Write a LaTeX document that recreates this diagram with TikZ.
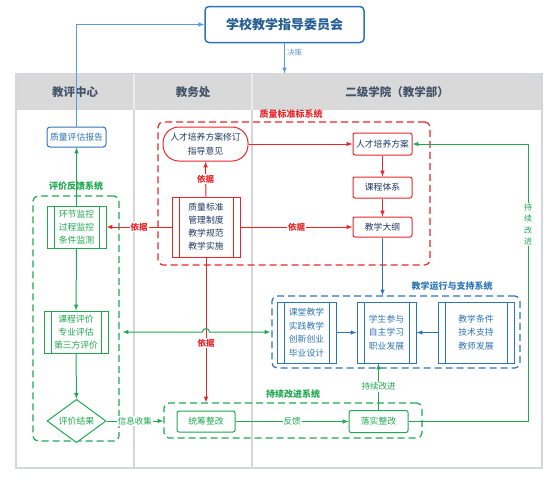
\documentclass[tikz,border=0pt]{standalone}
\usepackage{fontspec}
\setmainfont{Noto Sans CJK SC}
\usetikzlibrary{shapes.geometric}
\definecolor{qblue}{HTML}{2E75B6}
\definecolor{lblue}{HTML}{5B9BD5}
\definecolor{qred}{HTML}{E8262A}
\definecolor{qgreen}{HTML}{1FA84F}
\definecolor{qnavy}{HTML}{1F3864}
\definecolor{lanegray}{HTML}{D3D7DB}
\definecolor{hdrgray}{HTML}{D9D9D9}
\definecolor{hdrtext}{HTML}{44546A}

\tikzset{
  >=latex,
  boxtxt/.style={font=\fontsize{8.8}{13}\selectfont, align=center, inner sep=0pt},
  rbox/.style={boxtxt, draw=qred, line width=1pt, rounded corners=2pt, fill=white, text=qnavy},
  gbox/.style={boxtxt, draw=qgreen, line width=1pt, rounded corners=2pt, fill=white, text=qgreen},
  bbox/.style={boxtxt, draw=qblue, line width=1pt, rounded corners=3pt, fill=white, text=qblue},
  proc/.style={boxtxt, draw=#1, line width=1pt, fill=white,
    path picture={
      \draw[#1, line width=1pt] ([xshift=7pt]path picture bounding box.north west) -- ([xshift=7pt]path picture bounding box.south west);
      \draw[#1, line width=1pt] ([xshift=-7pt]path picture bounding box.north east) -- ([xshift=-7pt]path picture bounding box.south east);
    }},
  sysbox/.style={draw=#1, dash pattern=on 7pt off 4pt, line width=1.2pt, rounded corners=5pt, inner sep=0pt},
  syslbl/.style={font=\bfseries\fontsize{9}{10}\selectfont, text=#1},
  hdr/.style={font=\bfseries\fontsize{11.5}{13}\selectfont, text=hdrtext},
  rarr/.style={draw=qred, line width=1pt, ->},
  garr/.style={draw=qgreen, line width=1pt, ->},
  barr/.style={draw=qblue, line width=1pt, ->},
  elbl/.style={font=\fontsize{8.5}{10}\selectfont, fill=white, inner sep=1pt, text=#1},
  ylbl/.style={elbl=qred, font=\bfseries\fontsize{8.5}{10}\selectfont}
}

\begin{document}
\begin{tikzpicture}[x=1pt,y=-1pt]
\useasboundingbox (0,0) rectangle (554,483);

% lanes
\fill[hdrgray] (16,73.5) rectangle (542,110);
\draw[lanegray, line width=1.5pt] (16,73.5) rectangle (542,468);
\foreach \x in {134,252}
 {
 \draw[lanegray, line width=1.5pt] (\x,110) -- (\x,468);
 \draw[white!85!gray, line width=1.2pt] (\x,73.5) -- (\x,110);
 }
\node[hdr] (pjzx) at (75,92) {教评中心};
\node[hdr] (jwc) at (193,92) {教务处};
\node[hdr] (ejxy) at (397,92) {二级学院（教学部）};

% top
\node[draw=qblue, line width=1.5pt, rounded corners=4pt, fill=white, minimum width=159, minimum height=36,
  font=\bfseries\fontsize{13}{15}\selectfont, text=qblue!80!black] (zdw) at (284.5,24.5) {学校教学指导委员会};
\coordinate (hdtop) at (284.5,73.5);
\draw[barr, draw=lblue] (zdw) -- (hdtop) node[pos=0.3, right, inner sep=2pt, font=\fontsize{7.5}{9}\selectfont, text=lblue] {决策};

% systems
\node[sysbox=qgreen, minimum width=86, minimum height=245] (fksys) at (76,318.5) {};
\node[syslbl=qgreen] (fklbl) at (76,186) {评价反馈系统};
\node[sysbox=qred, minimum width=272, minimum height=143] (bzsys) at (294,193.5) {};
\node[syslbl=qred] (bzlbl) at (291,114) {质量标准标系统};
\node[sysbox=qblue, minimum width=248, minimum height=72] (yxsys) at (396,332) {};
\node[syslbl=qblue] (yxlbl) at (452,286) {教学运行与支持系统};
\node[sysbox=qgreen, minimum width=258, minimum height=35] (gjsys) at (293,420.5) {};
\node[syslbl=qgreen] (gjlbl) at (293,394) {持续改进系统};

% 教评中心
\node[bbox, minimum width=59, minimum height=20] (bg) at (76.5,137) {质量评估报告};
\node[proc=qgreen, text=qgreen, minimum width=59, minimum height=42] (hj) at (76.5,227) {环节监控\\过程监控\\条件监测};
\node[proc=qgreen, text=qgreen, minimum width=64, minimum height=42] (kc) at (76,332) {课程评价\\专业评估\\第三方评价};
\node[boxtxt, diamond, draw=qgreen, line width=1pt, fill=white, text=qgreen, minimum width=59, minimum height=34] (jg) at (76.5,421) {评价结果};

% 质量标准
\node[rbox, rounded corners=16pt, minimum width=85, minimum height=34, font=\fontsize{8.8}{14.5}\selectfont] (xd) at (205.5,144) {人才培养方案修订\\指导意见};
\node[proc=qred, text=qnavy, minimum width=68, minimum height=60] (bz) at (206,227) {质量标准\\管理制度\\教学规范\\教学实施};
\node[rbox, minimum width=59, minimum height=22] (fa) at (382.5,144) {人才培养方案};
\node[rbox, minimum width=59, minimum height=21] (tx) at (382.5,187.5) {课程体系};
\node[rbox, minimum width=59, minimum height=20] (dg) at (382.5,227) {教学大纲};

% 运行与支持
\node[proc=qblue, text=qblue, minimum width=59, minimum height=61, font=\fontsize{8.8}{13.5}\selectfont] (kt) at (306.5,332.5) {课堂教学\\实践教学\\创新创业\\毕业设计};
\node[proc=qblue, text=qblue, minimum width=59, minimum height=61, font=\fontsize{8.8}{13.5}\selectfont] (xs) at (386.5,332.5) {学生参与\\自主学习\\职业发展};
\node[proc=qblue, text=qblue, minimum width=76, minimum height=61, font=\fontsize{8.8}{13.5}\selectfont] (tj) at (476,332.5) {教学条件\\技术支持\\教师发展};

% 持续改进
\node[gbox, minimum width=58, minimum height=21] (tc) at (206,421.5) {统筹整改};
\node[gbox, minimum width=59, minimum height=22] (ls) at (378.5,421.5) {落实整改};
\coordinate (rt) at (528,300);

% arrows
\draw[barr, draw=lblue] (bg) |- (zdw);
\draw[garr] (hj) -- (bg);
\draw[garr] (hj) -- (kc);
\draw[garr] (kc) -- (jg);
\draw[rarr] (bz) -- (xd) node[ylbl, midway] {依据};
\draw[rarr] (bz) -- (hj) node[ylbl, midway] {依据};
\draw[rarr] (xd) -- (fa);
\draw[rarr] (bz) -- (dg) node[ylbl, midway] {依据};
\draw[rarr] (fa) -- (tx);
\draw[rarr] (tx) -- (dg);
\draw[barr] (dg) -- (dg.south |- yxsys.north);
\draw[barr] (kt) -- (xs);
\draw[barr] (tj) -- (xs);
\draw[rarr] (bz) -- (bz.south |- gjsys.north) node[ylbl, pos=0.59] {依据};
\draw[garr, <->] ([xshift=3pt]fksys.east |- kc) -- (202.5,332) arc (180:360:3.5) -- ([xshift=-1pt]yxsys.west |- kc);
\draw[garr] (jg) -- (gjsys.west |- jg) node[elbl=qgreen, midway] {信息收集};
\draw[garr] (tc) -- (ls) node[elbl=qgreen, midway] {反馈};
\draw[garr] (ls.north) -- (ls.north |- xs.south) node[elbl=qgreen, midway] {持续改进};
\draw[garr] (ls) -- (ls -| rt) -- (fa -| rt)
  node[elbl=qgreen, pos=0.71, align=center, font=\fontsize{8}{11.3}\selectfont] {持\\续\\改\\进} -- (fa);
\end{tikzpicture}
\end{document}
